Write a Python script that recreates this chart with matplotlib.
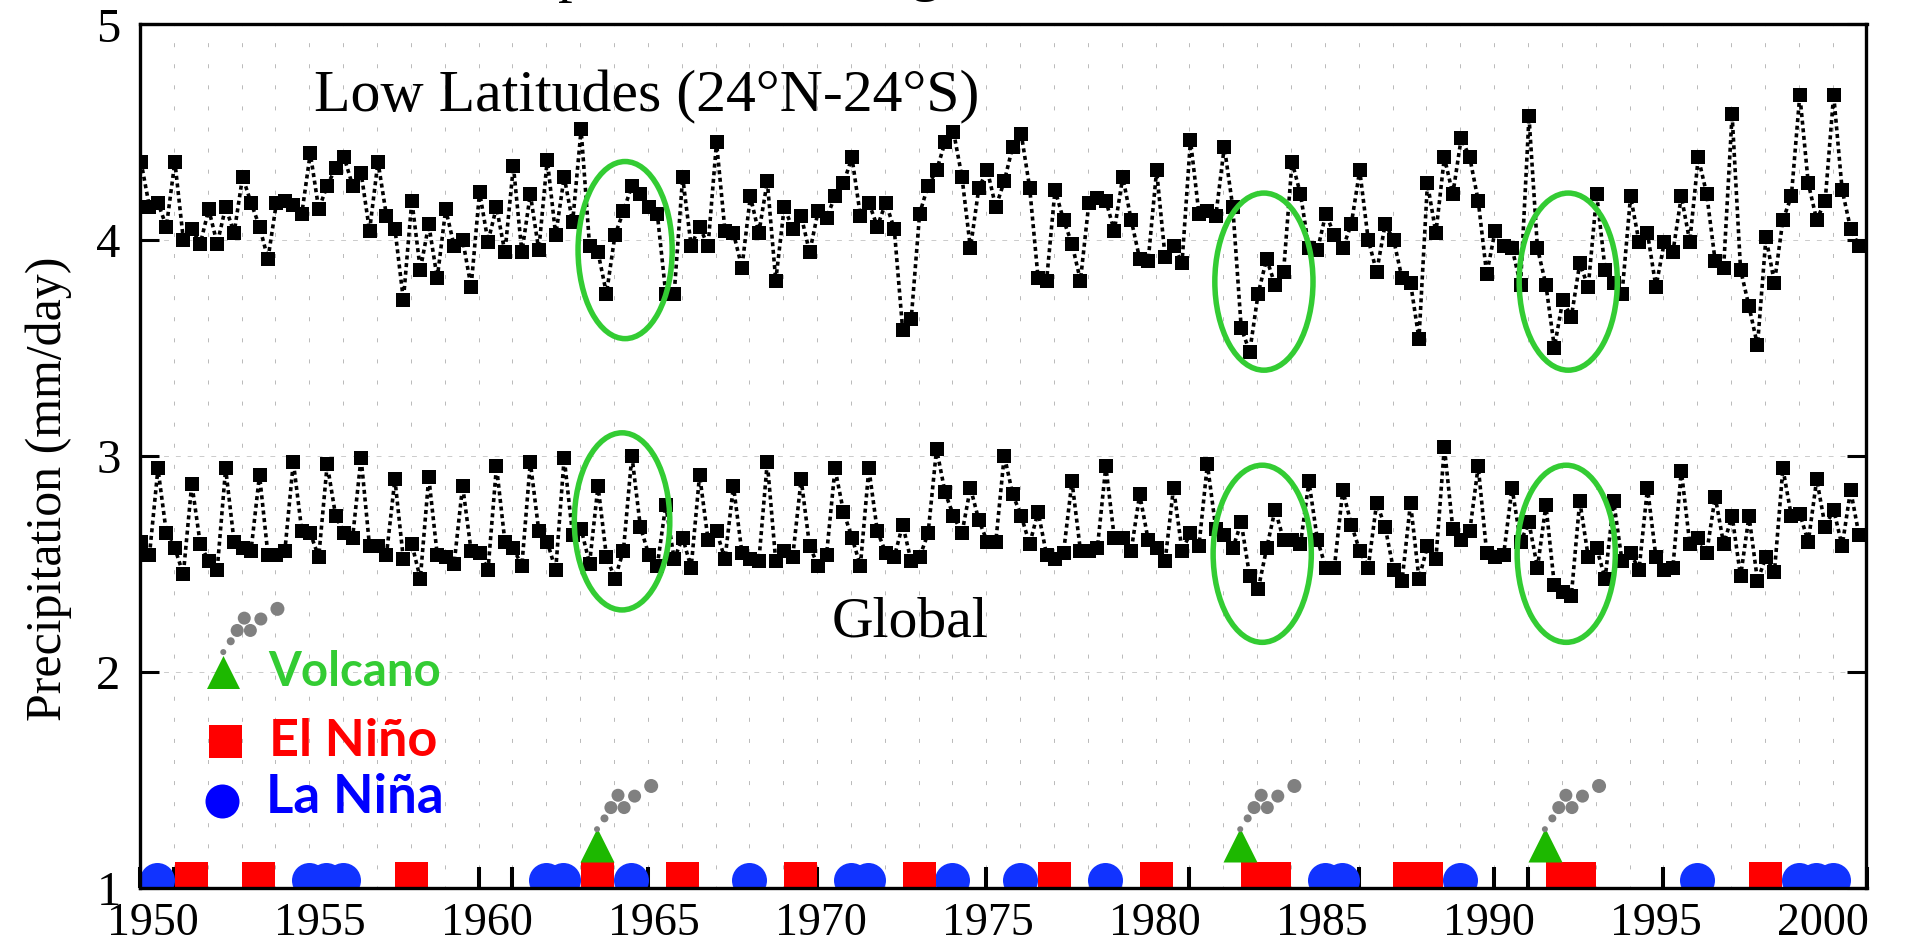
import numpy as np
import matplotlib
matplotlib.use("Agg")
import matplotlib.pyplot as plt
from matplotlib.patches import Ellipse

plt.rcParams['font.family'] = ['Liberation Serif', 'DejaVu Serif']
plt.rcParams['lines.scale_dashes'] = False

# seasonal precipitation, one value per quarter 1950-2000 (mm/day)
low_lat = [
	4.36,4.15,4.17,4.06,4.36,4.00,4.05,3.98,4.14,3.98,4.15,4.03,4.29,4.17,4.06,3.91,
	4.17,4.18,4.16,4.12,4.40,4.14,4.25,4.33,4.38,4.25,4.31,4.04,4.36,4.11,4.05,3.72,
	4.18,3.86,4.07,3.82,4.14,3.97,4.00,3.78,4.22,3.99,4.15,3.94,4.34,3.94,4.21,3.95,
	4.37,4.02,4.29,4.08,4.51,3.97,3.94,3.75,4.02,4.13,4.25,4.21,4.15,4.12,3.75,3.75,
	4.29,3.97,4.06,3.97,4.45,4.04,4.03,3.87,4.20,4.03,4.27,3.81,4.15,4.05,4.11,3.94,
	4.13,4.10,4.20,4.26,4.38,4.11,4.17,4.06,4.17,4.05,3.58,3.63,4.12,4.25,4.32,4.45,
	4.50,4.29,3.96,4.24,4.32,4.15,4.27,4.43,4.49,4.24,3.82,3.81,4.23,4.09,3.98,3.81,
	4.17,4.19,4.18,4.04,4.29,4.09,3.91,3.90,4.32,3.92,3.97,3.89,4.46,4.12,4.13,4.11,
	4.43,4.15,3.59,3.48,3.75,3.91,3.79,3.85,4.36,4.21,3.96,3.95,4.12,4.02,3.96,4.07,
	4.32,4.00,3.85,4.07,4.00,3.82,3.80,3.54,4.26,4.03,4.38,4.21,4.47,4.38,4.18,3.84,
	4.04,3.97,3.96,3.79,4.57,3.96,3.79,3.50,3.72,3.64,3.89,3.78,4.21,3.86,3.80,3.75,
	4.20,3.99,4.03,3.78,3.99,3.94,4.20,3.99,4.38,4.21,3.90,3.87,4.58,3.86,3.69,3.51,
	4.01,3.80,4.09,4.20,4.67,4.26,4.09,4.18,4.67,4.23,4.05,3.97]
global_mean = [
	2.60,2.54,2.94,2.64,2.57,2.45,2.87,2.59,2.51,2.47,2.94,2.60,2.57,2.56,2.91,2.54,
	2.54,2.56,2.97,2.65,2.64,2.53,2.96,2.72,2.64,2.62,2.99,2.58,2.58,2.54,2.89,2.52,
	2.59,2.43,2.90,2.54,2.53,2.50,2.86,2.56,2.55,2.47,2.95,2.60,2.57,2.49,2.97,2.65,
	2.60,2.47,2.99,2.63,2.66,2.50,2.86,2.53,2.43,2.56,3.00,2.67,2.54,2.49,2.77,2.52,
	2.62,2.48,2.91,2.61,2.65,2.52,2.86,2.55,2.52,2.51,2.97,2.51,2.56,2.53,2.89,2.58,
	2.49,2.54,2.94,2.74,2.62,2.49,2.94,2.65,2.55,2.53,2.68,2.51,2.53,2.64,3.03,2.83,
	2.72,2.64,2.85,2.70,2.60,2.60,3.00,2.82,2.72,2.59,2.74,2.54,2.52,2.55,2.88,2.56,
	2.56,2.57,2.95,2.62,2.62,2.56,2.82,2.61,2.57,2.51,2.85,2.56,2.64,2.58,2.96,2.66,
	2.63,2.57,2.69,2.44,2.38,2.57,2.75,2.61,2.61,2.59,2.88,2.61,2.48,2.48,2.84,2.68,
	2.56,2.48,2.78,2.67,2.47,2.42,2.78,2.43,2.58,2.52,3.04,2.66,2.61,2.65,2.95,2.55,
	2.53,2.54,2.85,2.60,2.69,2.48,2.77,2.40,2.37,2.35,2.79,2.53,2.57,2.43,2.79,2.51,
	2.55,2.47,2.85,2.53,2.47,2.48,2.93,2.59,2.62,2.55,2.81,2.59,2.72,2.44,2.72,2.42,
	2.53,2.46,2.94,2.72,2.73,2.60,2.89,2.67,2.75,2.58,2.84,2.63]
season_years = [1950.03 + 0.25*i for i in range(len(low_lat))]

# event dates along the bottom of the plot
la_nina = [1950.5,1955.0,1955.5,1956.0,1962.0,1962.5,1964.5,1968.0,1971.0,1971.5,1974.0,
	1976.0,1978.5,1985.0,1985.5,1989.0,1996.0,1999.0,1999.5,2000.0]
el_nino = [1951.5,1953.5,1958.0,1963.5,1966.0,1969.5,1973.0,1977.0,1980.0,1983.0,1983.5,
	1987.5,1988.0,1992.0,1992.5,1998.0]
volcano = [1963.5,1982.5,1991.5]

# circled post-eruption dips: centre year, centre value
circle_years = [1964.33,1983.2,1992.19,1964.24,1983.15,1992.13]
circle_values = [3.951,3.805,3.805,2.695,2.545,2.545]
circle_widths = [2.78,2.9,2.9,2.82,2.9,2.9]

# smoke puffs above a volcano
puff_dx = [0,0.22,0.41,0.8,0.62,1.11,1.6]
puff_dy = [0,0.05,0.1,0.1,0.157,0.153,0.2]
puff_px = [6,8,13,13,13,13,14]

tick_marks = [y+d for y in range(1950,2001,5) for d in (0,1)]
label_years = list(range(1950,2001,5))
label_pos = [1950.38 + (y-1950)*0.9868 for y in label_years]

GREEN = '#33cc33'
PX = 0.72

fig = plt.figure(figsize=(19.06,9.45), dpi=100)
ax = fig.add_axes([140/1906, 1-888.5/945, 1726.5/1906, 864/945])
ax.set_xlim(1950,2001)
ax.set_ylim(1,5)

for y in range(1951,2001):
	ax.axvline(y, color='#bbbbbb', lw=1*PX, ls=(1.44,(2.88,12.3)), zorder=0)
for v in (2,3,4):
	ax.axhline(v, color='#cccccc', lw=1*PX, ls=(0,(3.5,5)), zorder=0)

for vals in (low_lat, global_mean):
	ax.plot(season_years, vals, color='k', lw=2.6, ls=(0,(2.9,2.6)), marker='s', ms=10, mew=0, zorder=3)

for x,v,w in zip(circle_years, circle_values, circle_widths):
	ax.add_patch(Ellipse((x,v), w, 0.82, fill=False, ec=GREEN, lw=5.5*PX, zorder=4))

ax.scatter(la_nina, [1.037]*len(la_nina), marker='o', s=(35*PX)**2, color='#1133ff', lw=0, zorder=5)
ax.scatter(el_nino, [1.044]*len(el_nino), marker='s', s=(33*PX)**2, color='#ff0000', lw=0, zorder=6)
ax.scatter(volcano, [1.197]*len(volcano), marker='^', s=(34*PX)**2, color='#1db800', lw=0, zorder=7)

# legend, hand placed like the original
ax.scatter([1952.46],[1.998], marker='^', s=(33*PX)**2, color='#1db800', lw=0, zorder=7)
ax.scatter([1952.5],[1.68], marker='s', s=(33*PX)**2, color='#ff0000', lw=0, zorder=7)
ax.scatter([1952.42],[1.40], marker='o', s=(34*PX)**2, color='#0000ff', lw=0, zorder=7)
ax.text(1953.78, 1.9375, 'Volcano', color=GREEN, fontsize=34, family='Lato', weight='bold', zorder=8)
ax.text(1953.8, 1.614, 'El Niño', color='#ff0000', fontsize=37.5, family='Lato', weight='bold', zorder=8)
ax.text(1953.73, 1.348, 'La Niña', color='#0000ff', fontsize=38, family='Lato', weight='bold', zorder=8)

for x,v in zip(volcano+[1952.46], [1.27]*3+[2.09]):
	ax.scatter([x+d for d in puff_dx], [v+d for d in puff_dy], s=[(p*PX)**2 for p in puff_px],
		color='#808080', lw=0, zorder=7)

ax.text(1955.14, 4.596, 'Low Latitudes (24°N-24°S)', fontsize=43, zorder=8)
ax.text(1970.44, 2.166, 'Global', fontsize=41.5, zorder=8)

fig.text(49/1906, 1-489/945, 'Precipitation (mm/day)', rotation=90, ha='center', va='center', fontsize=36)
fig.text(573/1906, 1+9/945, 'p', ha='center', va='baseline', fontsize=42)
fig.text(925/1906, 1+10/945, 'g', ha='center', va='baseline', fontsize=42)

ax.set_yticks([1,2,3,4,5])
ax.tick_params(axis='y', direction='in', left=True, right=True, length=13.7, width=2.2, pad=14, labelsize=35)
ax.set_xticks(label_pos, [str(y) for y in label_years])
ax.tick_params(axis='x', which='major', length=0, pad=10, labelsize=33)
ax.set_xticks(tick_marks, minor=True)
ax.tick_params(axis='x', which='minor', direction='in', bottom=True, top=False, length=15, width=2.9)

for s in ax.spines.values():
	s.set_linewidth(2.4)
	s.set_zorder(9)

fig.savefig('out.png', dpi=100)
